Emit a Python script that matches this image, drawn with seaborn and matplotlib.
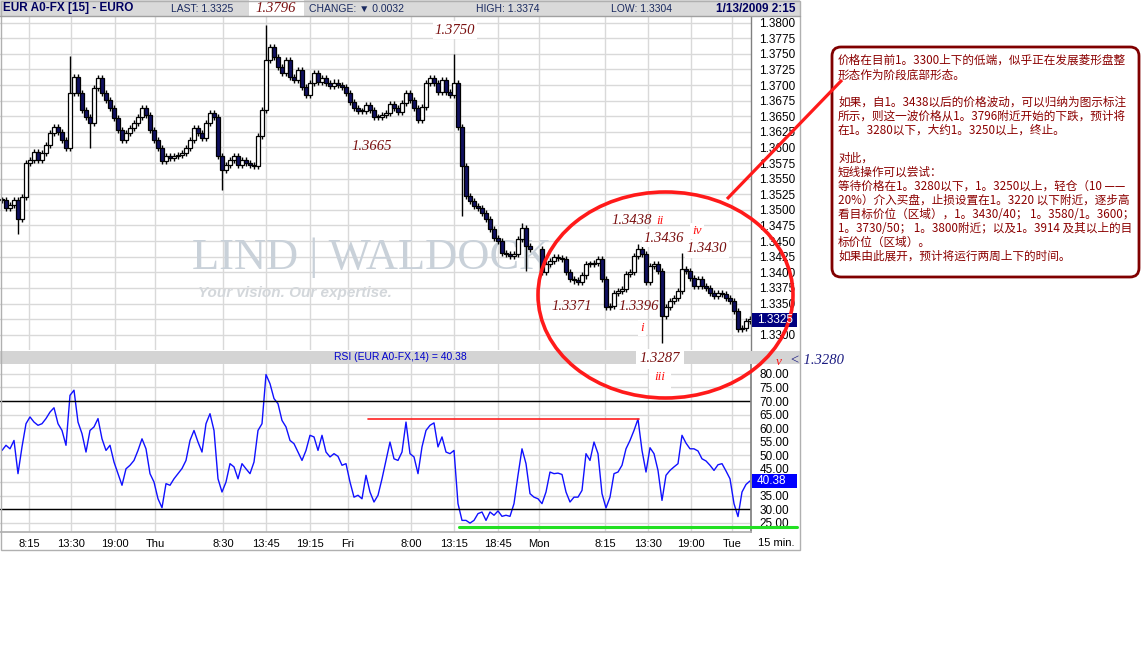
import numpy as np
import pandas as pd
import matplotlib
matplotlib.use("Agg")
import matplotlib.pyplot as plt
import seaborn as sns
from matplotlib.patches import Rectangle, Ellipse, FancyBboxPatch

# ---------------- data ----------------
close = [
    1.3516, 1.3503, 1.3508, 1.3516, 1.3485, 1.3521, 1.3575, 1.3580, 1.3593, 1.3580,
    1.3591, 1.3604, 1.3623, 1.3633, 1.3625, 1.3612, 1.3599, 1.3687, 1.3713, 1.3687,
    1.3660, 1.3649, 1.3639, 1.3695, 1.3711, 1.3687, 1.3676, 1.3663, 1.3647, 1.3628,
    1.3612, 1.3623, 1.3631, 1.3639, 1.3649, 1.3663, 1.3652, 1.3628, 1.3612, 1.3599,
    1.3578, 1.3586, 1.3583, 1.3586, 1.3588, 1.3591, 1.3599, 1.3612, 1.3631, 1.3623,
    1.3615, 1.3639, 1.3655, 1.3649, 1.3586, 1.3564, 1.3572, 1.3580, 1.3586, 1.3572,
    1.3580, 1.3575, 1.3572, 1.3570, 1.3618, 1.3660, 1.3740, 1.3761, 1.3745, 1.3729,
    1.3719, 1.3740, 1.3713, 1.3708, 1.3724, 1.3697, 1.3684, 1.3703, 1.3719, 1.3705,
    1.3711, 1.3703, 1.3698, 1.3704, 1.3700, 1.3697, 1.3687, 1.3673, 1.3663, 1.3659,
    1.3659, 1.3668, 1.3660, 1.3649, 1.3649, 1.3652, 1.3655, 1.3670, 1.3663, 1.3657,
    1.3671, 1.3687, 1.3676, 1.3663, 1.3644, 1.3665, 1.3703, 1.3711, 1.3703, 1.3689,
    1.3708, 1.3689, 1.3684, 1.3703, 1.3633, 1.3570, 1.3522, 1.3514, 1.3506, 1.3503,
    1.3495, 1.3485, 1.3469, 1.3455, 1.3450, 1.3431, 1.3429, 1.3426, 1.3429, 1.3453,
    1.3471, 1.3442, 1.3437, np.nan, np.nan, 1.3400, 1.3413, 1.3418, 1.3425, 1.3423,
    1.3421, 1.3400, 1.3389, 1.3387, 1.3384, 1.3395, 1.3413, 1.3413, 1.3415, 1.3421,
    1.3389, 1.3344, 1.3346, 1.3367, 1.3370, 1.3373, 1.3397, 1.3400, 1.3426, 1.3437,
    1.3429, 1.3384, 1.3410, 1.3413, 1.3402, 1.3330, 1.3344, 1.3354, 1.3359, 1.3370,
    1.3405, 1.3402, 1.3391, 1.3378, 1.3389, 1.3378, 1.3375, 1.3367, 1.3362, 1.3367,
    1.3365, 1.3359, 1.3354, 1.3338, 1.3309, 1.3311, 1.3322, 1.3325,
]

spike_hi_idx = [17, 66, 113, 130, 159, 170]
spike_hi_val = [1.3746, 1.3796, 1.3750, 1.3479, 1.3446, 1.3431]
spike_lo_idx = [4, 22, 55, 115, 131, 165]
spike_lo_val = [1.3461, 1.3599, 1.3532, 1.3490, 1.3402, 1.3287]

rsi = [
    51.7, 53.6, 52.3, 55.4, 43.1, 53.0, 61.6, 64.1, 62.2, 61.0,
    61.6, 63.5, 65.9, 67.5, 61.6, 59.1, 53.6, 72.1, 74.0, 62.2,
    57.9, 51.1, 59.1, 60.4, 63.5, 56.0, 51.7, 53.6, 47.4, 43.1,
    38.8, 44.9, 46.2, 48.0, 51.7, 56.0, 52.3, 43.1, 40.0, 33.8,
    30.5, 39.4, 38.8, 41.2, 43.1, 45.0, 48.0, 55.4, 59.1, 54.8,
    51.1, 61.6, 65.3, 59.1, 41.2, 36.3, 40.0, 46.8, 45.6, 41.2,
    46.8, 44.9, 43.1, 47.4, 59.1, 61.6, 79.8, 76.4, 70.9, 69.0,
    62.8, 60.4, 55.4, 54.2, 51.1, 48.0, 51.7, 57.3, 56.7, 51.7,
    57.3, 51.1, 49.3, 50.5, 49.5, 46.2, 46.8, 40.0, 34.4, 35.1,
    33.8, 42.5, 36.3, 32.6, 35.1, 41.2, 48.0, 54.8, 48.6, 48.0,
    51.1, 62.2, 50.5, 49.3, 43.1, 53.0, 59.1, 61.0, 61.9, 53.0,
    56.7, 51.1, 50.5, 51.7, 32.0, 25.8, 25.8, 24.8, 25.8, 28.3,
    28.9, 25.8, 28.9, 27.7, 29.3, 27.3, 27.7, 27.3, 32.0, 42.5,
    52.3, 46.8, 35.7, 34.4, 33.8, 32.0, 36.3, 43.7, 43.1, 43.3,
    42.8, 36.3, 32.6, 34.4, 34.4, 36.9, 50.5, 48.0, 54.8, 50.5,
    35.7, 30.4, 34.4, 43.1, 43.7, 46.2, 52.3, 55.4, 59.1, 63.3,
    51.7, 43.7, 52.7, 50.5, 44.3, 33.2, 42.5, 44.3, 45.6, 46.8,
    57.3, 54.4, 52.3, 52.3, 51.5, 48.6, 47.8, 46.2, 44.3, 46.4,
    46.8, 44.1, 41.2, 32.0, 27.2, 36.3, 39.1, 40.4,
]

xtick_pos = [6.75, 17.25, 28.25, 38.25, 55.25, 66, 77, 86.5, 102.25, 113,
             124, 134.25, 150.75, 161.5, 172.25, 182.5]
xtick_labels = ["8:15", "13:30", "19:00", "Thu", "8:30", "13:45", "19:15", "Fri",
                "8:00", "13:15", "18:45", "Mon", "8:15", "13:30", "19:00", "Tue"]
price_ticks = [1.3300, 1.3325, 1.3350, 1.3375, 1.3400, 1.3425, 1.3450, 1.3475,
               1.3500, 1.3525, 1.3550, 1.3575, 1.3600, 1.3625, 1.3650, 1.3675,
               1.3700, 1.3725, 1.3750, 1.3775, 1.3800]
price_tick_labels = ["1.3300", "", "1.3350", "1.3375", "1.3400", "1.3425", "1.3450",
                     "1.3475", "1.3500", "1.3525", "1.3550", "1.3575", "1.3600",
                     "1.3625", "1.3650", "1.3675", "1.3700", "1.3725", "1.3750",
                     "1.3775", "1.3800"]
rsi_ticks = [25, 30, 35, 40, 45, 50, 55, 60, 65, 70, 75, 80]
rsi_tick_labels = ["25.00", "30.00", "35.00", "", "45.00", "50.00", "55.00", "60.00",
                   "65.00", "70.00", "75.00", "80.00"]
rsi_red_level, rsi_red_from, rsi_red_to = 63.3, 91.5, 159.25
rsi_green_level, rsi_green_from, rsi_green_to = 23.5, 114.25, 198.75

box_lines = [
    "价格在目前1。3300上下的低端，似乎正在发展菱形盘整",
    "形态作为阶段底部形态。",
    "如果，自1。3438以后的价格波动，可以归纳为图示标注",
    "所示，则这一波价格从1。3796附近开始的下跌，预计将",
    "在1。3280以下，大约1。3250以上，终止。",
    "对此，",
    "短线操作可以尝试：",
    "等待价格在1。3280以下，1。3250以上，轻仓（10 ——",
    "20%）介入买盘，止损设置在1。3220 以下附近，逐步高",
    "看目标价位（区域），1。3430/40； 1。3580/1。3600；",
    "1。3730/50； 1。3800附近；以及1。3914 及其以上的目",
    "标价位（区域）。",
    "如果由此展开，预计将运行两周上下的时间。",
]
box_line_y = [60, 75, 102, 116, 130, 158, 172, 186, 200, 214, 228, 242, 256]

# ---------------- figure ----------------
sns.set_theme(style="white")
plt.rcParams["font.family"] = ["Liberation Sans", "DejaVu Sans"]

W, H = 1146, 667
fig = plt.figure(figsize=(W / 100, H / 100), dpi=100)
fig.patch.set_facecolor("white")


def fy(y):
    return 1 - y / H


grid_c = "#d9d9d9"
ax1 = fig.add_axes([0, fy(350), 751 / W, (350 - 16) / H])
ax2 = fig.add_axes([0, fy(532), 751 / W, (532 - 364) / H])

# ---- price candles ----
n = len(close)
idx = np.arange(n)
c = np.array(close, dtype=float)
o = pd.Series(c).ffill().shift(1).to_numpy()
o[0] = c[0]
valid = ~np.isnan(c)
hi = np.fmax(o, c) + 0.0005
lo = np.fmin(o, c) - 0.0005
for i, v in zip(spike_hi_idx, spike_hi_val):
    hi[i] = v
for i, v in zip(spike_lo_idx, spike_lo_val):
    lo[i] = v
bottom = np.fmin(o, c)
height = np.maximum(np.abs(c - o), 0.00012)
up = c >= o
faces = np.where(up, "white", "#101060")

ax1.vlines(idx[valid], lo[valid], hi[valid], color="black", lw=1.0, zorder=2)
ax1.bar(idx[valid], height[valid], bottom=bottom[valid], width=0.9,
        color=faces[valid], edgecolor="black", linewidth=0.9, zorder=3)

ax1.set_xlim(-0.5, 187.25)
ax1.set_ylim(1.32755, 1.38107)
ax1.set_xticks(xtick_pos)
ax1.set_xticklabels([])
ax1.set_yticks(price_ticks)
ax1.set_yticklabels(price_tick_labels)
ax1.yaxis.tick_right()
ax1.tick_params(axis="y", length=0, pad=6, labelsize=8.5, labelcolor="black")
ax1.tick_params(axis="x", length=0)
ax1.grid(True, color=grid_c, lw=1)
ax1.set_axisbelow(True)
for s in ["left", "top", "bottom"]:
    ax1.spines[s].set_visible(False)
ax1.spines["right"].set_color("#808080")
ax1.spines["right"].set_linewidth(1)

# watermark
ax1.text(0.495, 0.275, "LIND | WALDOCK", transform=ax1.transAxes, ha="center",
         va="center", fontsize=32, color="#c9d1d9", family="Liberation Serif", zorder=1)
ax1.text(0.264, 0.171, "Your vision. Our expertise.", transform=ax1.transAxes,
         ha="left", va="center", fontsize=11, color="#d3d7db", fontweight="bold",
         fontstyle="italic", zorder=1)

# ---- RSI ----
df_rsi = pd.DataFrame({"idx": idx, "rsi": rsi})
sns.lineplot(data=df_rsi, x="idx", y="rsi", ax=ax2, color="#1010ff", lw=1, legend=False)
ax2.set_xlim(-0.5, 187.25)
ax2.set_ylim(21.5, 83.7)
ax2.set_xlabel("")
ax2.set_ylabel("")
ax2.set_yticks(rsi_ticks)
ax2.set_yticklabels(rsi_tick_labels)
ax2.yaxis.tick_right()
ax2.tick_params(axis="y", length=0, pad=6, labelsize=8.5, labelcolor="black")
ax2.set_xticks(xtick_pos)
ax2.set_xticklabels(xtick_labels)
ax2.tick_params(axis="x", length=0, pad=5, labelsize=8, labelcolor="black")
ax2.grid(True, color=grid_c, lw=1)
ax2.set_axisbelow(True)
ax2.axhline(70, color="black", lw=1, zorder=2)
ax2.axhline(30, color="black", lw=1, zorder=2)
ax2.plot([rsi_red_from, rsi_red_to], [rsi_red_level] * 2, color="#ff2020", lw=1.2, zorder=3)
ax2.plot([rsi_green_from, rsi_green_to], [rsi_green_level] * 2, color="#22e022", lw=2.2,
         zorder=3, clip_on=False)
for s in ["left", "top"]:
    ax2.spines[s].set_visible(False)
ax2.spines["right"].set_color("#808080")
ax2.spines["bottom"].set_color("#b0b0b0")

# ---------------- overlay (pixel coordinates) ----------------
ov = fig.add_axes([0, 0, 1, 1])
ov.set_xlim(0, W)
ov.set_ylim(H, 0)
ov.axis("off")
ov.patch.set_alpha(0)
ov.set_zorder(10)

# header bar
ov.add_patch(Rectangle((0, 0), 800, 16, fc="#d9d9d9", ec="none"))
ov.plot([0, 800], [16, 16], color="#a0a0a0", lw=1)
hdr_c = "#1a2a60"
ov.text(3, 8.5, "EUR A0-FX [15] - EURO", ha="left", va="center", fontsize=8.5,
        fontweight="bold", color="#000060")
ov.text(171, 8.5, "LAST: 1.3325", ha="left", va="center", fontsize=7.5, color=hdr_c)
ov.text(309, 8.5, "CHANGE: ▼ 0.0032", ha="left", va="center", fontsize=7.5, color=hdr_c)
ov.text(476, 8.5, "HIGH: 1.3374", ha="left", va="center", fontsize=7.5, color=hdr_c)
ov.text(611, 8.5, "LOW: 1.3304", ha="left", va="center", fontsize=7.5, color=hdr_c)
ov.text(796, 8.5, "1/13/2009 2:15", ha="right", va="center", fontsize=8.5,
        fontweight="bold", color="#000060")
ov.add_patch(Rectangle((249, 0), 55, 16, fc="white", ec="none"))

# RSI title bar
ov.add_patch(Rectangle((0, 351), 800, 13, fc="#d4d4d4", ec="none"))
ov.text(400, 357.5, "RSI (EUR A0-FX,14) = 40.38", ha="center", va="center",
        fontsize=7.5, color="#0000cc")

# outer frame
ov.add_patch(Rectangle((0.5, 0.5), 799, 549, fc="none", ec="#b0b0b0", lw=1))

# current-value boxes
ov.add_patch(Rectangle((752, 313), 45, 14, fc="#000080", ec="none"))
ov.text(757, 320, "1.3325", ha="left", va="center", fontsize=8.5, color="white")
ov.add_patch(Rectangle((752, 474), 45, 14, fc="#0000ff", ec="none"))
ov.text(757, 481, "40.38", ha="left", va="center", fontsize=8.5, color="white")
ov.text(776, 543, "15 min.", ha="center", va="center", fontsize=8, color="black")

# price annotations
num_c = "#7a1010"
num_kw = dict(ha="center", va="center", fontsize=10.5, color=num_c,
              family="Liberation Serif", fontstyle="italic")
wbox = dict(fc="white", ec="none", pad=1.5)
ov.text(276, 9, "1.3796", **num_kw)
ov.text(455, 30, "1.3750", bbox=wbox, **num_kw)
ov.text(372, 147, "1.3665", **num_kw)
ov.text(632, 221, "1.3438", **num_kw)
ov.text(664, 238, "1.3436", bbox=wbox, **num_kw)
ov.text(707, 249, "1.3430", bbox=wbox, **num_kw)
ov.text(572, 306, "1.3371", **num_kw)
ov.text(639, 307, "1.3396", **num_kw)
ov.text(660, 359, "1.3287", bbox=dict(fc="white", ec="none", pad=2.5), **num_kw)

rom_kw = dict(ha="center", va="center", fontsize=9.5, color="#ff1010",
              family="Liberation Serif", fontstyle="italic")
ov.text(660, 221, "ii", **rom_kw)
ov.text(697, 231, "iv", bbox=wbox, **rom_kw)
ov.text(642, 328, "i", bbox=wbox, **rom_kw)
ov.text(660, 377, "iii", bbox=dict(fc="white", ec="none", pad=4), **rom_kw)
ov.text(779, 362, "v", **rom_kw)
ov.text(790, 361, "< 1.3280", ha="left", va="center", fontsize=10.5, color="#1a1a80",
        family="Liberation Serif", fontstyle="italic")

# red ellipse and pointer line
ov.add_patch(Ellipse((665.5, 295), 255, 206, fill=False, ec="#ff1a1a", lw=2.6))
ov.plot([727, 842], [199, 80], color="#ff1a1a", lw=2.3, solid_capstyle="butt")

# commentary box
ov.add_patch(FancyBboxPatch((832, 47), 307, 230,
                            boxstyle="round,pad=0,rounding_size=9",
                            fc="white", ec="#800000", lw=2))
for line, yy in zip(box_lines, box_line_y):
    ov.text(838, yy, line, ha="left", va="center", fontsize=8.4, color="#8b0000",
            family=["Noto Sans CJK SC", "DejaVu Sans"])

fig.savefig("out.png", dpi=100, facecolor="white")
